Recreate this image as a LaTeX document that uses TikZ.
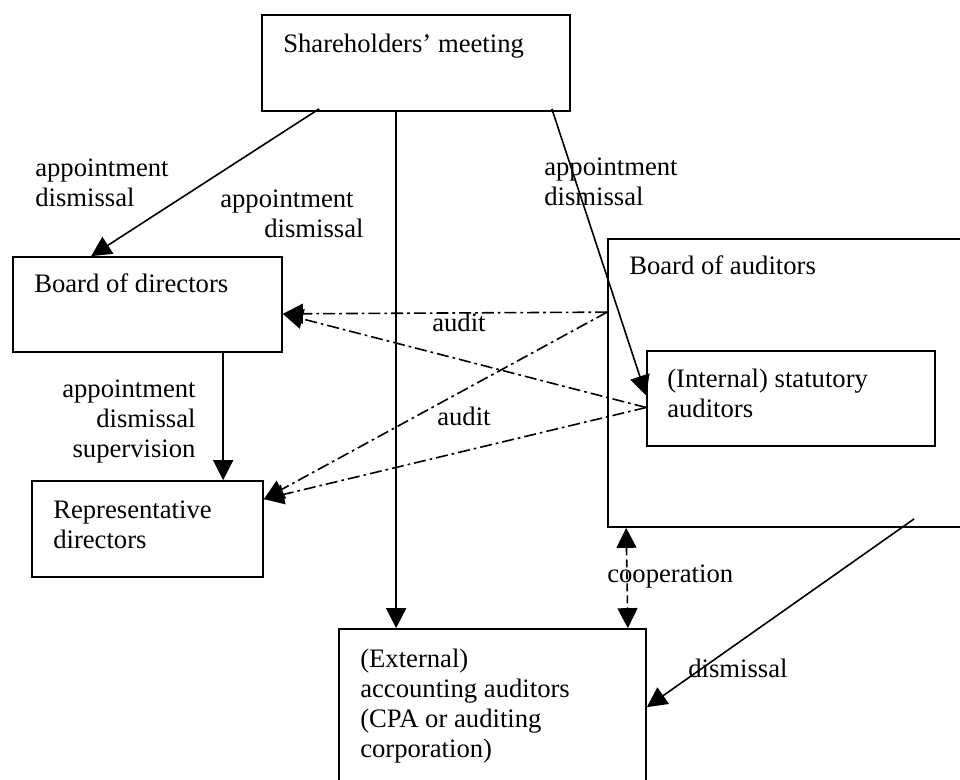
\documentclass[tikz,border=0pt]{standalone}
\usepackage{fontspec}
\setmainfont{Liberation Serif}
\usetikzlibrary{positioning, fit, calc, arrows.meta}
\tikzstyle{box} = [rectangle, draw=black, line width=1.3pt, inner sep=0pt]
\tikzstyle{txt} = [anchor=base west, inner sep=0pt, align=left]
\tikzstyle{arrow} = [line width=1.2pt, -{Triangle[length=15pt,width=15pt]}]
\tikzstyle{auditarrow} = [arrow, dash pattern=on 9pt off 3pt on 2pt off 3pt]
\tikzstyle{coop} = [line width=1.2pt, dash pattern=on 6pt off 3pt, {Triangle[length=15pt,width=15pt]}-{Triangle[length=15pt,width=15pt]}]

\begin{document}
\begin{tikzpicture}[x=0.75pt, y=-0.75pt, font=\fontsize{20pt}{22.5pt}\selectfont]
  \useasboundingbox (0,0) rectangle (960,779);
  % boxes
  \node (share) [box, fit={(262,15) (570,111)}] {};
  \node (bod) [box, fit={(13,257) (282,352)}] {};
  \node (rep) [box, fit={(32,481) (263,577)}] {};
  \node (boa) [box, fit={(608,239) (985,527)}] {};
  \node (stat) [box, fit={(647,351) (935,446)}] {};
  \node (ext) [box, fit={(339,629) (646,800)}] {};

  % box texts (base = last line)
  \node (sharetext) [txt] at (283,52) {Shareholders' meeting};
  \node (bodtext) [txt] at (34,292) {Board of directors};
  \node (reptext) [txt] at (53,548) {Representative\\directors};
  \node (boatext) [txt] at (629,274) {Board of auditors};
  \node (stattext) [txt] at (667,417) {(Internal) statutory\\auditors};
  \node (exttext) [txt] at (360,757) {(External)\\accounting auditors\\(CPA or auditing\\corporation)};

  % connectors
  \draw [arrow] ($(share.south west)+(58,-3)$) -- ($(bod.north west)+(79,0)$);
  \draw [arrow] ($(share.south west)+(135,0)$) -- ($(ext.north west)+(58,0)$);
  \draw [arrow] ($(share.south east)+(-19,-3)$) -- ($(stat.west)+(0,-3)$);
  \draw [arrow] ($(bod.south west)+(211,0)$) -- ($(rep.north west)+(192,0)$);
  \draw [auditarrow] ($(boa.north west)+(0,74)$) -- ($(bod.south east)+(0,-39)$);
  \draw [auditarrow] ($(stat.west)+(0,9)$) -- ($(bod.south east)+(0,-39)$);
  \draw [auditarrow] ($(boa.north west)+(0,74)$) -- ($(rep.north east)+(0,19)$);
  \draw [auditarrow] ($(stat.west)+(0,9)$) -- ($(rep.north east)+(0,19)$);
  \draw [coop] ($(boa.south west)+(19,0)$) -- ($(ext.north east)+(-19,0)$);
  \draw [arrow] ($(boa.south west)+(307,-9)$) -- ($(ext.north east)+(0,79)$);

  % connector labels
  \node (lbl1) [txt] at (35,206) {appointment\\dismissal};
  \node (lbl2) [txt] at (220,237) {appointment\\\hspace*{33pt}dismissal};
  \node (lbl3) [txt] at (544,205) {appointment\\dismissal};
  \node (lbl4) [txt, align=right] at (62,457) {appointment\\dismissal\\supervision};
  \node (audit1) [txt] at (432,331) {audit};
  \node (audit2) [txt] at (437,425) {audit};
  \node (cooplbl) [txt] at (607,582) {cooperation};
  \node (dismlbl) [txt] at (688,677) {dismissal};
\end{tikzpicture}
\end{document}
